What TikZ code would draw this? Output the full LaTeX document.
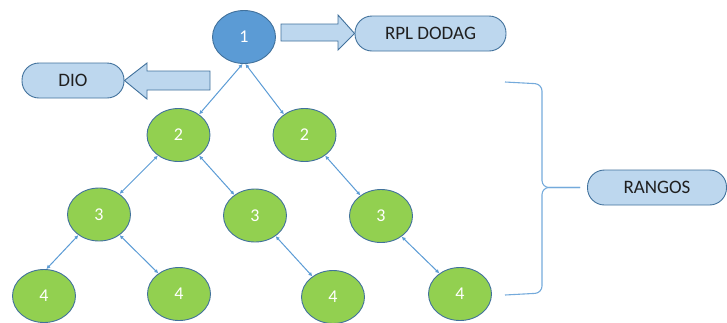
\documentclass[tikz,border=0pt]{standalone}
\usepackage{fontspec}
\setmainfont{Carlito}
\usetikzlibrary{shapes.geometric,arrows.meta}
\definecolor{rootblue}{HTML}{5B9BD5}
\definecolor{edgeblue}{HTML}{41719C}
\definecolor{leafgreen}{HTML}{92D050}
\definecolor{boxblue}{HTML}{BDD7EE}
\definecolor{inkgray}{HTML}{1F1F1F}
\tikzset{
  rank/.style={ellipse,draw=edgeblue,line width=0.9pt,fill=leafgreen,
    minimum width=63pt,minimum height=53pt,inner sep=0pt,
    text=white,font=\fontsize{18}{20}\selectfont},
  tag/.style={draw=edgeblue,line width=0.9pt,fill=boxblue,rounded corners=17pt,
    minimum height=35pt,inner sep=0pt,text=inkgray,font=\fontsize{19}{21}\selectfont},
  link/.style={rootblue,line width=1pt,{Latex[length=4pt,width=4pt]}-{Latex[length=4pt,width=4pt]}},
  fat/.style={draw=edgeblue,line width=0.9pt,fill=boxblue,line join=miter}
}
\begin{document}
\begin{tikzpicture}[x=1pt,y=-1pt]
\useasboundingbox (0,0) rectangle (727,322);
%raiz
\node[rank,fill=rootblue] (n1) at (244,37) {1};
%rango 2
\node[rank] (n2a) at (178.5,135) {2};
\node[rank] (n2b) at (304.5,135) {2};
%rango 3
\node[rank] (n3a) at (99,214.5) {3};
\node[rank] (n3b) at (255,215.5) {3};
\node[rank] (n3c) at (381,216) {3};
%rango 4
\node[rank] (n4a) at (44,296) {4};
\node[rank] (n4b) at (179,294) {4};
\node[rank] (n4c) at (333,297) {4};
\node[rank] (n4d) at (460,294) {4};
%etiquetas
\node[tag,minimum width=151pt] (dodag) at (430.5,33.5) {RPL DODAG};
\node[tag,minimum width=102pt] (dio) at (73,80.5) {DIO};
\node[tag,minimum width=139pt] (rangos) at (657,187.5) {RANGOS};
%enlaces
\draw[link] (n1.-93) -- (n2a.45);
\draw[link] (n1.-87) -- (n2b.135);
\draw[link] (n2a.225) -- (n3a.45);
\draw[link] (n2a.-45) -- (n3b.135);
\draw[link] (n2b.-45) -- (n3c.135);
\draw[link] (n3a.225) -- (n4a.85);
\draw[link] (n3a.-45) -- (n4b.135);
\draw[link] (n3b.-45) -- (n4c.135);
\draw[link] (n3c.-45) -- (n4d.135);
%flechas gruesas
\draw[fat] (281,24) -- (338,24) -- (338,15) -- (dodag.west) -- (338,50) -- (338,41) -- (281,41) -- cycle;
\draw[fat] (210,71) -- (147,71) -- (147,63) -- (dio.east) -- (147,99) -- (147,90) -- (210,90) -- cycle;
%llave
\coordinate (tip) at (580,187.5);
\draw[rootblue!85,line width=1.1pt,rounded corners=7pt] (505,82) -- (542,84) -- (542,187.5) -- (tip);
\draw[rootblue!85,line width=1.1pt,rounded corners=7pt] (tip) -- (542,187.5) -- (542,293) -- (505,295);
\end{tikzpicture}
\end{document}
